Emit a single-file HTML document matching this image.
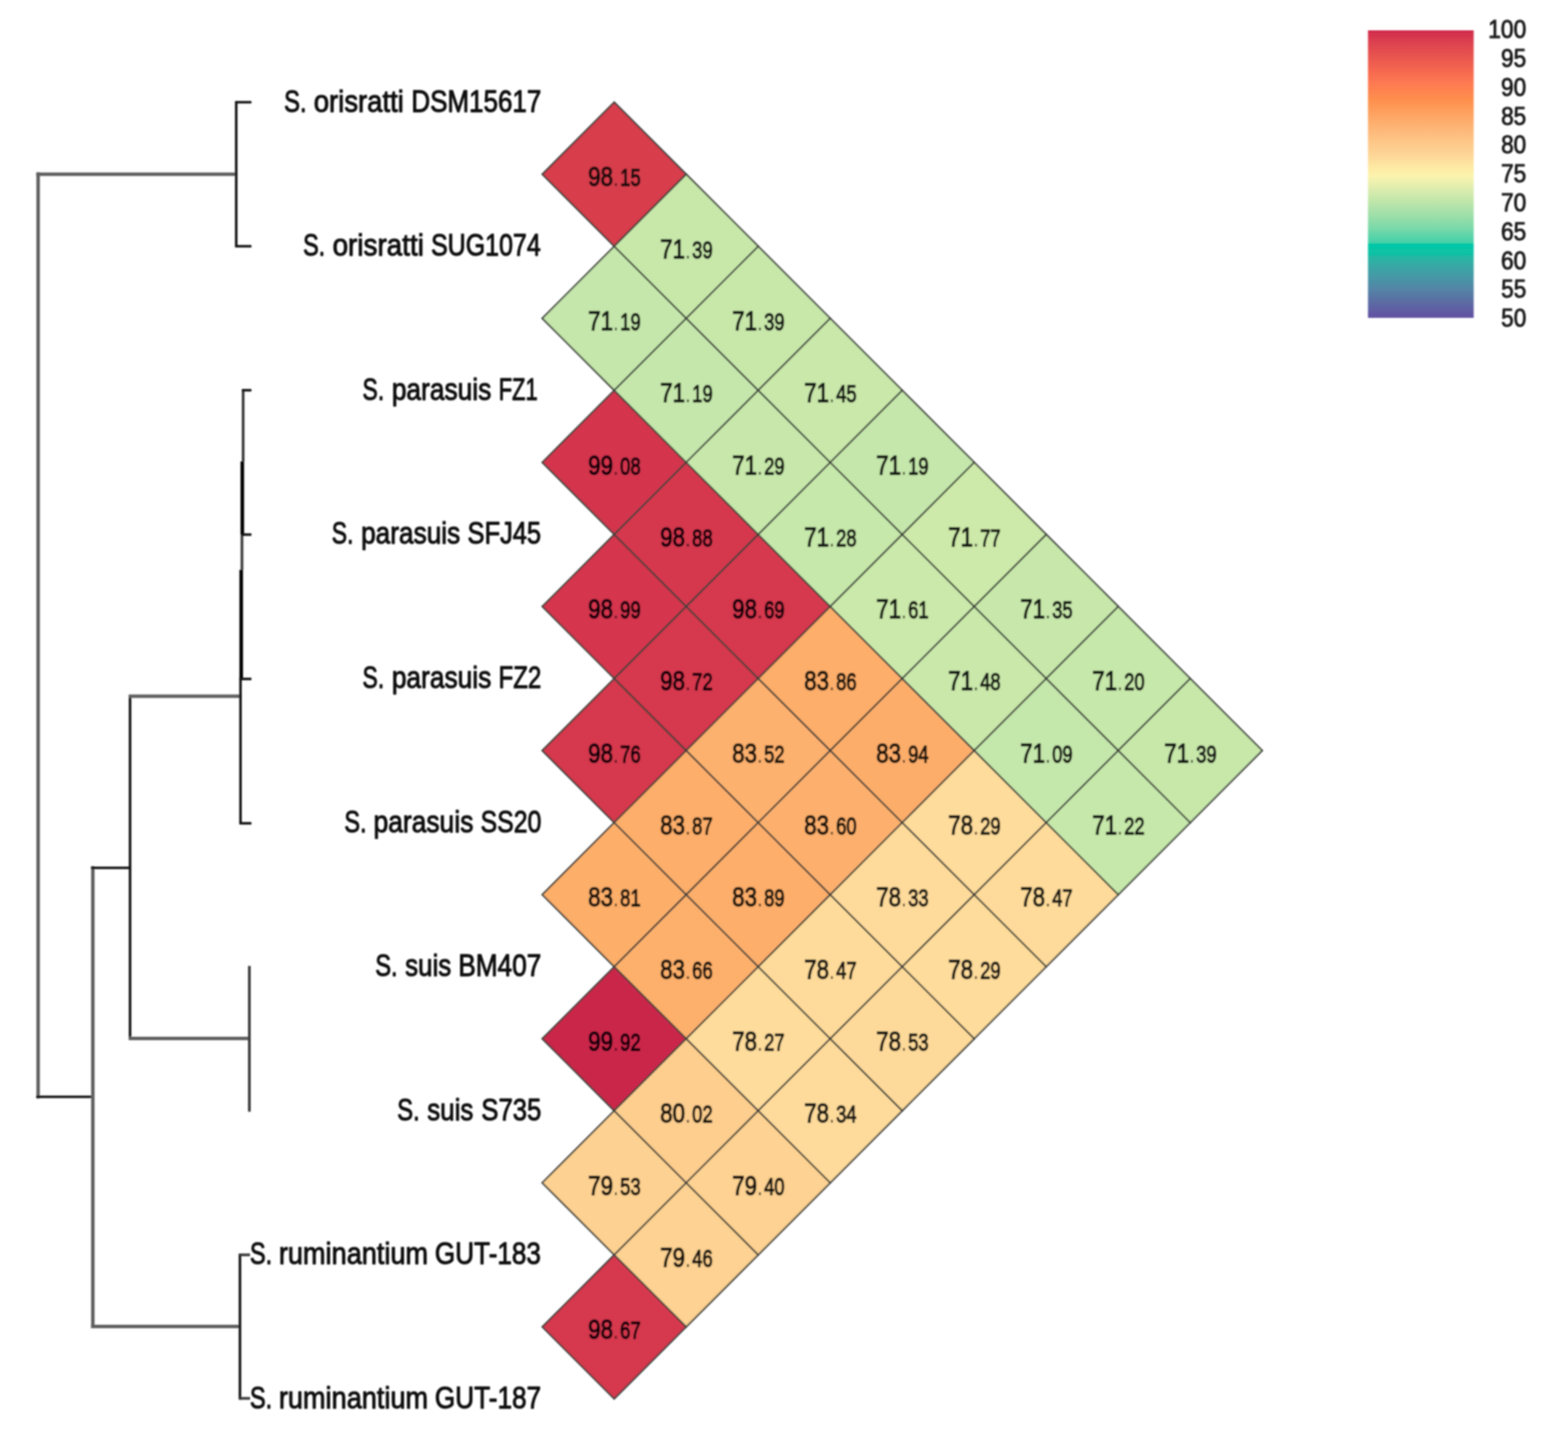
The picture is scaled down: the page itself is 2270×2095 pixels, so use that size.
<!DOCTYPE html>
<html lang="en"><head><meta charset="utf-8"><title>ANI heatmap</title>
<style>
html,body{margin:0;padding:0;background:#fff;}
body{width:2270px;height:2095px;overflow:hidden;}
svg{display:block;}
text{font-family:"Liberation Sans",sans-serif;}
.lab{font-size:45px;fill:#101010;text-anchor:start;stroke:#101010;stroke-width:1.4;stroke-linejoin:round;}
.big{font-size:38.5px;}
.sml{font-size:34.5px;}
.dot{font-size:29.325px;stroke-width:0.4;opacity:0.75;}
.num{fill:#000;opacity:0.88;text-anchor:start;stroke:#000;stroke-width:1.8;stroke-linejoin:round;}
.cb{font-size:36px;fill:#1c1c1c;text-anchor:start;stroke:#1c1c1c;stroke-width:1.2;stroke-linejoin:round;}
.cell{stroke:#3c403c;stroke-width:2.4;stroke-linejoin:miter;}
.dL{stroke:#5e5e5e;stroke-width:5;fill:none;stroke-linecap:butt;}
.dM{stroke:#3c3c3c;stroke-width:4;fill:none;stroke-linecap:butt;}
.dD{stroke:#0c0c0c;stroke-width:3.6;fill:none;stroke-linecap:butt;}
.dT{stroke:#000000;stroke-width:5.2;fill:none;stroke-linecap:butt;}
</style></head><body>
<svg width="2270" height="2095" viewBox="0 0 2270 2095">
<defs><linearGradient id="cbg" x1="0" y1="0" x2="0" y2="1">
<stop offset="0.0000" stop-color="#CC2244"/>
<stop offset="0.0096" stop-color="#D3304E"/>
<stop offset="0.0481" stop-color="#DE4450"/>
<stop offset="0.0865" stop-color="#E75350"/>
<stop offset="0.1249" stop-color="#F1624F"/>
<stop offset="0.1634" stop-color="#FA7150"/>
<stop offset="0.1826" stop-color="#FE7A52"/>
<stop offset="0.2018" stop-color="#FE8050"/>
<stop offset="0.2403" stop-color="#FE8F4E"/>
<stop offset="0.2595" stop-color="#FE9654"/>
<stop offset="0.2787" stop-color="#FE9E5C"/>
<stop offset="0.3172" stop-color="#FDAD6D"/>
<stop offset="0.3556" stop-color="#FDBB7C"/>
<stop offset="0.3940" stop-color="#FDC98A"/>
<stop offset="0.4325" stop-color="#FDD596"/>
<stop offset="0.4709" stop-color="#FDE7A3"/>
<stop offset="0.4950" stop-color="#FDF0A8"/>
<stop offset="0.5065" stop-color="#FBF3AD"/>
<stop offset="0.5334" stop-color="#EAF0AF"/>
<stop offset="0.5718" stop-color="#CFE9AC"/>
<stop offset="0.6103" stop-color="#B5E3AA"/>
<stop offset="0.6487" stop-color="#9ADEA9"/>
<stop offset="0.6872" stop-color="#7AD9A9"/>
<stop offset="0.7256" stop-color="#51D2A9"/>
<stop offset="0.7400" stop-color="#47D0A9"/>
<stop offset="0.7407" stop-color="#00C9A7"/>
<stop offset="0.7792" stop-color="#0FC0A5"/>
<stop offset="0.7869" stop-color="#25B8A3"/>
<stop offset="0.8217" stop-color="#3AA7A5"/>
<stop offset="0.8602" stop-color="#4797A6"/>
<stop offset="0.8986" stop-color="#5385A6"/>
<stop offset="0.9370" stop-color="#5A70A4"/>
<stop offset="0.9755" stop-color="#5F5CA3"/>
<stop offset="1.0000" stop-color="#5E50A2"/>
</linearGradient>
<filter id="bl" filterUnits="userSpaceOnUse" x="0" y="0" width="2270" height="2095"><feGaussianBlur stdDeviation="1"/></filter>
</defs>
<rect width="2270" height="2095" fill="#fff"/>
<g filter="url(#bl)">
<g id="dendrogram">
<path class="dL" d="M55.2,249.6 V1590.6"/>
<path class="dL" d="M52.6,252.2 H342"/>
<path class="dD" d="M52.6,1588 H134.4"/>
<path class="dL" d="M134.4,1254 V1923.1"/>
<path class="dD" d="M131.8,1256.5 H188.3"/>
<path class="dD" d="M188.3,1006 V1505.5"/>
<path class="dL" d="M186.6,1008 H348"/>
<path class="dL" d="M186.6,1503.5 H361"/>
<path class="dL" d="M131.8,1920.5 H347.4"/>
<path class="dD" d="M364,148 H342 V356.5 H364"/>
<path class="dM" d="M352.0,565 V668"/>
<path class="dT" d="M350.8,668 V774"/>
<path class="dM" d="M350.3,774 V825"/>
<path class="dT" d="M349.2,825 V983"/>
<path class="dD" d="M348.2,983 V1192"/>
<path class="dD" d="M350,565 H364"/>
<path class="dD" d="M350,774 H364"/>
<path class="dD" d="M346.6,983 H364"/>
<path class="dD" d="M346.6,1192 H364"/>
<path class="dM" d="M361,1398.5 V1609.5"/>
<path class="dD" d="M347.4,1815 V2026.5"/>
<path class="dM" d="M347.4,1816.8 H362"/>
<path class="dM" d="M347.4,2024.6 H362"/>
</g>
<g id="labels">
<text class="lab" y="161.50"><tspan x="411.23" textLength="32.62" lengthAdjust="spacingAndGlyphs">S.</tspan> <tspan x="454.13" textLength="130.56" lengthAdjust="spacingAndGlyphs">orisratti</tspan> <tspan x="595.51" textLength="188.18" lengthAdjust="spacingAndGlyphs">DSM15617</tspan></text>
<text class="lab" y="370.10"><tspan x="438.65" textLength="32.15" lengthAdjust="spacingAndGlyphs">S.</tspan> <tspan x="481.41" textLength="132.31" lengthAdjust="spacingAndGlyphs">orisratti</tspan> <tspan x="623.96" textLength="158.90" lengthAdjust="spacingAndGlyphs">SUG1074</tspan></text>
<text class="lab" y="578.70"><tspan x="524.79" textLength="31.33" lengthAdjust="spacingAndGlyphs">S.</tspan> <tspan x="567.14" textLength="144.14" lengthAdjust="spacingAndGlyphs">parasuis</tspan> <tspan x="721.90" textLength="56.46" lengthAdjust="spacingAndGlyphs">FZ1</tspan></text>
<text class="lab" y="787.30"><tspan x="480.19" textLength="31.45" lengthAdjust="spacingAndGlyphs">S.</tspan> <tspan x="522.65" textLength="143.62" lengthAdjust="spacingAndGlyphs">parasuis</tspan> <tspan x="676.83" textLength="106.52" lengthAdjust="spacingAndGlyphs">SFJ45</tspan></text>
<text class="lab" y="995.90"><tspan x="524.79" textLength="31.33" lengthAdjust="spacingAndGlyphs">S.</tspan> <tspan x="567.14" textLength="144.14" lengthAdjust="spacingAndGlyphs">parasuis</tspan> <tspan x="721.64" textLength="61.91" lengthAdjust="spacingAndGlyphs">FZ2</tspan></text>
<text class="lab" y="1204.50"><tspan x="498.55" textLength="32.15" lengthAdjust="spacingAndGlyphs">S.</tspan> <tspan x="540.63" textLength="144.65" lengthAdjust="spacingAndGlyphs">parasuis</tspan> <tspan x="695.87" textLength="87.73" lengthAdjust="spacingAndGlyphs">SS20</tspan></text>
<text class="lab" y="1413.10"><tspan x="543.14" textLength="32.50" lengthAdjust="spacingAndGlyphs">S.</tspan> <tspan x="586.56" textLength="66.70" lengthAdjust="spacingAndGlyphs">suis</tspan> <tspan x="663.38" textLength="120.33" lengthAdjust="spacingAndGlyphs">BM407</tspan></text>
<text class="lab" y="1621.70"><tspan x="575.03" textLength="32.62" lengthAdjust="spacingAndGlyphs">S.</tspan> <tspan x="618.56" textLength="66.70" lengthAdjust="spacingAndGlyphs">suis</tspan> <tspan x="696.81" textLength="86.95" lengthAdjust="spacingAndGlyphs">S735</tspan></text>
<text class="lab" y="1830.30"><tspan x="361.74" textLength="32.39" lengthAdjust="spacingAndGlyphs">S.</tspan> <tspan x="403.69" textLength="216.10" lengthAdjust="spacingAndGlyphs">ruminantium</tspan> <tspan x="629.62" textLength="153.52" lengthAdjust="spacingAndGlyphs">GUT-183</tspan></text>
<text class="lab" y="2038.90"><tspan x="361.74" textLength="32.39" lengthAdjust="spacingAndGlyphs">S.</tspan> <tspan x="403.69" textLength="216.10" lengthAdjust="spacingAndGlyphs">ruminantium</tspan> <tspan x="629.62" textLength="153.76" lengthAdjust="spacingAndGlyphs">GUT-187</tspan></text>
</g>
<g id="heatmap">
<polygon class="cell" fill="#D73D4C" points="785.00,252.30 889.24,148.00 993.48,252.30 889.24,356.60"/>
<polygon class="cell" fill="#C5E7AB" points="785.00,460.90 889.24,356.60 993.48,460.90 889.24,565.20"/>
<polygon class="cell" fill="#D4354D" points="785.00,669.50 889.24,565.20 993.48,669.50 889.24,773.80"/>
<polygon class="cell" fill="#D5364D" points="785.00,878.10 889.24,773.80 993.48,878.10 889.24,982.40"/>
<polygon class="cell" fill="#D6384D" points="785.00,1086.70 889.24,982.40 993.48,1086.70 889.24,1191.00"/>
<polygon class="cell" fill="#FDAF6B" points="785.00,1295.30 889.24,1191.00 993.48,1295.30 889.24,1399.60"/>
<polygon class="cell" fill="#CA2549" points="785.00,1503.90 889.24,1399.60 993.48,1503.90 889.24,1608.20"/>
<polygon class="cell" fill="#FDD191" points="785.00,1712.50 889.24,1608.20 993.48,1712.50 889.24,1816.80"/>
<polygon class="cell" fill="#D6394D" points="785.00,1921.10 889.24,1816.80 993.48,1921.10 889.24,2025.40"/>
<polygon class="cell" fill="#C8E8AA" points="889.24,356.60 993.48,252.30 1097.72,356.60 993.48,460.90"/>
<polygon class="cell" fill="#C5E7AB" points="889.24,565.20 993.48,460.90 1097.72,565.20 993.48,669.50"/>
<polygon class="cell" fill="#D5374D" points="889.24,773.80 993.48,669.50 1097.72,773.80 993.48,878.10"/>
<polygon class="cell" fill="#D6394D" points="889.24,982.40 993.48,878.10 1097.72,982.40 993.48,1086.70"/>
<polygon class="cell" fill="#FDAE6A" points="889.24,1191.00 993.48,1086.70 1097.72,1191.00 993.48,1295.30"/>
<polygon class="cell" fill="#FDB06C" points="889.24,1399.60 993.48,1295.30 1097.72,1399.60 993.48,1503.90"/>
<polygon class="cell" fill="#FDCE8E" points="889.24,1608.20 993.48,1503.90 1097.72,1608.20 993.48,1712.50"/>
<polygon class="cell" fill="#FDD292" points="889.24,1816.80 993.48,1712.50 1097.72,1816.80 993.48,1921.10"/>
<polygon class="cell" fill="#C8E8AA" points="993.48,460.90 1097.72,356.60 1201.96,460.90 1097.72,565.20"/>
<polygon class="cell" fill="#C7E8AA" points="993.48,669.50 1097.72,565.20 1201.96,669.50 1097.72,773.80"/>
<polygon class="cell" fill="#D6394D" points="993.48,878.10 1097.72,773.80 1201.96,878.10 1097.72,982.40"/>
<polygon class="cell" fill="#FDB16E" points="993.48,1086.70 1097.72,982.40 1201.96,1086.70 1097.72,1191.00"/>
<polygon class="cell" fill="#FDAE6A" points="993.48,1295.30 1097.72,1191.00 1201.96,1295.30 1097.72,1399.60"/>
<polygon class="cell" fill="#FEDC9B" points="993.48,1503.90 1097.72,1399.60 1201.96,1503.90 1097.72,1608.20"/>
<polygon class="cell" fill="#FDD292" points="993.48,1712.50 1097.72,1608.20 1201.96,1712.50 1097.72,1816.80"/>
<polygon class="cell" fill="#C9E8AA" points="1097.72,565.20 1201.96,460.90 1306.20,565.20 1201.96,669.50"/>
<polygon class="cell" fill="#C6E8AA" points="1097.72,773.80 1201.96,669.50 1306.20,773.80 1201.96,878.10"/>
<polygon class="cell" fill="#FDAE6A" points="1097.72,982.40 1201.96,878.10 1306.20,982.40 1201.96,1086.70"/>
<polygon class="cell" fill="#FDB06D" points="1097.72,1191.00 1201.96,1086.70 1306.20,1191.00 1201.96,1295.30"/>
<polygon class="cell" fill="#FEDB9A" points="1097.72,1399.60 1201.96,1295.30 1306.20,1399.60 1201.96,1503.90"/>
<polygon class="cell" fill="#FEDB9B" points="1097.72,1608.20 1201.96,1503.90 1306.20,1608.20 1201.96,1712.50"/>
<polygon class="cell" fill="#C5E7AB" points="1201.96,669.50 1306.20,565.20 1410.44,669.50 1306.20,773.80"/>
<polygon class="cell" fill="#CBE9AA" points="1201.96,878.10 1306.20,773.80 1410.44,878.10 1306.20,982.40"/>
<polygon class="cell" fill="#FDAD6A" points="1201.96,1086.70 1306.20,982.40 1410.44,1086.70 1306.20,1191.00"/>
<polygon class="cell" fill="#FEDB9B" points="1201.96,1295.30 1306.20,1191.00 1410.44,1295.30 1306.20,1399.60"/>
<polygon class="cell" fill="#FEDA9A" points="1201.96,1503.90 1306.20,1399.60 1410.44,1503.90 1306.20,1608.20"/>
<polygon class="cell" fill="#CEEAAA" points="1306.20,773.80 1410.44,669.50 1514.68,773.80 1410.44,878.10"/>
<polygon class="cell" fill="#C9E8AA" points="1306.20,982.40 1410.44,878.10 1514.68,982.40 1410.44,1086.70"/>
<polygon class="cell" fill="#FEDC9B" points="1306.20,1191.00 1410.44,1086.70 1514.68,1191.00 1410.44,1295.30"/>
<polygon class="cell" fill="#FEDC9B" points="1306.20,1399.60 1410.44,1295.30 1514.68,1399.60 1410.44,1503.90"/>
<polygon class="cell" fill="#C7E8AA" points="1410.44,878.10 1514.68,773.80 1618.92,878.10 1514.68,982.40"/>
<polygon class="cell" fill="#C4E7AB" points="1410.44,1086.70 1514.68,982.40 1618.92,1086.70 1514.68,1191.00"/>
<polygon class="cell" fill="#FEDB9A" points="1410.44,1295.30 1514.68,1191.00 1618.92,1295.30 1514.68,1399.60"/>
<polygon class="cell" fill="#C6E8AA" points="1514.68,982.40 1618.92,878.10 1723.16,982.40 1618.92,1086.70"/>
<polygon class="cell" fill="#C6E8AA" points="1514.68,1191.00 1618.92,1086.70 1723.16,1191.00 1618.92,1295.30"/>
<polygon class="cell" fill="#C8E8AA" points="1618.92,1086.70 1723.16,982.40 1827.40,1086.70 1723.16,1191.00"/>
</g>
<g id="values">
<text class="num" y="269.30"><tspan class="big" x="851.54" textLength="35.90" lengthAdjust="spacingAndGlyphs">98</tspan><tspan class="dot" x="887.84" textLength="7.67" lengthAdjust="spacingAndGlyphs">.</tspan><tspan class="sml" x="897.84" textLength="29.60" lengthAdjust="spacingAndGlyphs">15</tspan></text>
<text class="num" y="477.90"><tspan class="big" x="851.54" textLength="35.90" lengthAdjust="spacingAndGlyphs">71</tspan><tspan class="dot" x="887.84" textLength="7.67" lengthAdjust="spacingAndGlyphs">.</tspan><tspan class="sml" x="897.84" textLength="29.60" lengthAdjust="spacingAndGlyphs">19</tspan></text>
<text class="num" y="686.50"><tspan class="big" x="851.54" textLength="35.90" lengthAdjust="spacingAndGlyphs">99</tspan><tspan class="dot" x="887.84" textLength="7.67" lengthAdjust="spacingAndGlyphs">.</tspan><tspan class="sml" x="897.84" textLength="29.60" lengthAdjust="spacingAndGlyphs">08</tspan></text>
<text class="num" y="895.10"><tspan class="big" x="851.54" textLength="35.90" lengthAdjust="spacingAndGlyphs">98</tspan><tspan class="dot" x="887.84" textLength="7.67" lengthAdjust="spacingAndGlyphs">.</tspan><tspan class="sml" x="897.84" textLength="29.60" lengthAdjust="spacingAndGlyphs">99</tspan></text>
<text class="num" y="1103.70"><tspan class="big" x="851.54" textLength="35.90" lengthAdjust="spacingAndGlyphs">98</tspan><tspan class="dot" x="887.84" textLength="7.67" lengthAdjust="spacingAndGlyphs">.</tspan><tspan class="sml" x="897.84" textLength="29.60" lengthAdjust="spacingAndGlyphs">76</tspan></text>
<text class="num" y="1312.30"><tspan class="big" x="851.54" textLength="35.90" lengthAdjust="spacingAndGlyphs">83</tspan><tspan class="dot" x="887.84" textLength="7.67" lengthAdjust="spacingAndGlyphs">.</tspan><tspan class="sml" x="897.84" textLength="29.60" lengthAdjust="spacingAndGlyphs">81</tspan></text>
<text class="num" y="1520.90"><tspan class="big" x="851.54" textLength="35.90" lengthAdjust="spacingAndGlyphs">99</tspan><tspan class="dot" x="887.84" textLength="7.67" lengthAdjust="spacingAndGlyphs">.</tspan><tspan class="sml" x="897.84" textLength="29.60" lengthAdjust="spacingAndGlyphs">92</tspan></text>
<text class="num" y="1729.50"><tspan class="big" x="851.54" textLength="35.90" lengthAdjust="spacingAndGlyphs">79</tspan><tspan class="dot" x="887.84" textLength="7.67" lengthAdjust="spacingAndGlyphs">.</tspan><tspan class="sml" x="897.84" textLength="29.60" lengthAdjust="spacingAndGlyphs">53</tspan></text>
<text class="num" y="1938.10"><tspan class="big" x="851.54" textLength="35.90" lengthAdjust="spacingAndGlyphs">98</tspan><tspan class="dot" x="887.84" textLength="7.67" lengthAdjust="spacingAndGlyphs">.</tspan><tspan class="sml" x="897.84" textLength="29.60" lengthAdjust="spacingAndGlyphs">67</tspan></text>
<text class="num" y="373.60"><tspan class="big" x="955.78" textLength="35.90" lengthAdjust="spacingAndGlyphs">71</tspan><tspan class="dot" x="992.08" textLength="7.67" lengthAdjust="spacingAndGlyphs">.</tspan><tspan class="sml" x="1002.08" textLength="29.60" lengthAdjust="spacingAndGlyphs">39</tspan></text>
<text class="num" y="582.20"><tspan class="big" x="955.78" textLength="35.90" lengthAdjust="spacingAndGlyphs">71</tspan><tspan class="dot" x="992.08" textLength="7.67" lengthAdjust="spacingAndGlyphs">.</tspan><tspan class="sml" x="1002.08" textLength="29.60" lengthAdjust="spacingAndGlyphs">19</tspan></text>
<text class="num" y="790.80"><tspan class="big" x="955.78" textLength="35.90" lengthAdjust="spacingAndGlyphs">98</tspan><tspan class="dot" x="992.08" textLength="7.67" lengthAdjust="spacingAndGlyphs">.</tspan><tspan class="sml" x="1002.08" textLength="29.60" lengthAdjust="spacingAndGlyphs">88</tspan></text>
<text class="num" y="999.40"><tspan class="big" x="955.78" textLength="35.90" lengthAdjust="spacingAndGlyphs">98</tspan><tspan class="dot" x="992.08" textLength="7.67" lengthAdjust="spacingAndGlyphs">.</tspan><tspan class="sml" x="1002.08" textLength="29.60" lengthAdjust="spacingAndGlyphs">72</tspan></text>
<text class="num" y="1208.00"><tspan class="big" x="955.78" textLength="35.90" lengthAdjust="spacingAndGlyphs">83</tspan><tspan class="dot" x="992.08" textLength="7.67" lengthAdjust="spacingAndGlyphs">.</tspan><tspan class="sml" x="1002.08" textLength="29.60" lengthAdjust="spacingAndGlyphs">87</tspan></text>
<text class="num" y="1416.60"><tspan class="big" x="955.78" textLength="35.90" lengthAdjust="spacingAndGlyphs">83</tspan><tspan class="dot" x="992.08" textLength="7.67" lengthAdjust="spacingAndGlyphs">.</tspan><tspan class="sml" x="1002.08" textLength="29.60" lengthAdjust="spacingAndGlyphs">66</tspan></text>
<text class="num" y="1625.20"><tspan class="big" x="955.78" textLength="35.90" lengthAdjust="spacingAndGlyphs">80</tspan><tspan class="dot" x="992.08" textLength="7.67" lengthAdjust="spacingAndGlyphs">.</tspan><tspan class="sml" x="1002.08" textLength="29.60" lengthAdjust="spacingAndGlyphs">02</tspan></text>
<text class="num" y="1833.80"><tspan class="big" x="955.78" textLength="35.90" lengthAdjust="spacingAndGlyphs">79</tspan><tspan class="dot" x="992.08" textLength="7.67" lengthAdjust="spacingAndGlyphs">.</tspan><tspan class="sml" x="1002.08" textLength="29.60" lengthAdjust="spacingAndGlyphs">46</tspan></text>
<text class="num" y="477.90"><tspan class="big" x="1060.02" textLength="35.90" lengthAdjust="spacingAndGlyphs">71</tspan><tspan class="dot" x="1096.32" textLength="7.67" lengthAdjust="spacingAndGlyphs">.</tspan><tspan class="sml" x="1106.32" textLength="29.60" lengthAdjust="spacingAndGlyphs">39</tspan></text>
<text class="num" y="686.50"><tspan class="big" x="1060.02" textLength="35.90" lengthAdjust="spacingAndGlyphs">71</tspan><tspan class="dot" x="1096.32" textLength="7.67" lengthAdjust="spacingAndGlyphs">.</tspan><tspan class="sml" x="1106.32" textLength="29.60" lengthAdjust="spacingAndGlyphs">29</tspan></text>
<text class="num" y="895.10"><tspan class="big" x="1060.02" textLength="35.90" lengthAdjust="spacingAndGlyphs">98</tspan><tspan class="dot" x="1096.32" textLength="7.67" lengthAdjust="spacingAndGlyphs">.</tspan><tspan class="sml" x="1106.32" textLength="29.60" lengthAdjust="spacingAndGlyphs">69</tspan></text>
<text class="num" y="1103.70"><tspan class="big" x="1060.02" textLength="35.90" lengthAdjust="spacingAndGlyphs">83</tspan><tspan class="dot" x="1096.32" textLength="7.67" lengthAdjust="spacingAndGlyphs">.</tspan><tspan class="sml" x="1106.32" textLength="29.60" lengthAdjust="spacingAndGlyphs">52</tspan></text>
<text class="num" y="1312.30"><tspan class="big" x="1060.02" textLength="35.90" lengthAdjust="spacingAndGlyphs">83</tspan><tspan class="dot" x="1096.32" textLength="7.67" lengthAdjust="spacingAndGlyphs">.</tspan><tspan class="sml" x="1106.32" textLength="29.60" lengthAdjust="spacingAndGlyphs">89</tspan></text>
<text class="num" y="1520.90"><tspan class="big" x="1060.02" textLength="35.90" lengthAdjust="spacingAndGlyphs">78</tspan><tspan class="dot" x="1096.32" textLength="7.67" lengthAdjust="spacingAndGlyphs">.</tspan><tspan class="sml" x="1106.32" textLength="29.60" lengthAdjust="spacingAndGlyphs">27</tspan></text>
<text class="num" y="1729.50"><tspan class="big" x="1060.02" textLength="35.90" lengthAdjust="spacingAndGlyphs">79</tspan><tspan class="dot" x="1096.32" textLength="7.67" lengthAdjust="spacingAndGlyphs">.</tspan><tspan class="sml" x="1106.32" textLength="29.60" lengthAdjust="spacingAndGlyphs">40</tspan></text>
<text class="num" y="582.20"><tspan class="big" x="1164.26" textLength="35.90" lengthAdjust="spacingAndGlyphs">71</tspan><tspan class="dot" x="1200.56" textLength="7.67" lengthAdjust="spacingAndGlyphs">.</tspan><tspan class="sml" x="1210.56" textLength="29.60" lengthAdjust="spacingAndGlyphs">45</tspan></text>
<text class="num" y="790.80"><tspan class="big" x="1164.26" textLength="35.90" lengthAdjust="spacingAndGlyphs">71</tspan><tspan class="dot" x="1200.56" textLength="7.67" lengthAdjust="spacingAndGlyphs">.</tspan><tspan class="sml" x="1210.56" textLength="29.60" lengthAdjust="spacingAndGlyphs">28</tspan></text>
<text class="num" y="999.40"><tspan class="big" x="1164.26" textLength="35.90" lengthAdjust="spacingAndGlyphs">83</tspan><tspan class="dot" x="1200.56" textLength="7.67" lengthAdjust="spacingAndGlyphs">.</tspan><tspan class="sml" x="1210.56" textLength="29.60" lengthAdjust="spacingAndGlyphs">86</tspan></text>
<text class="num" y="1208.00"><tspan class="big" x="1164.26" textLength="35.90" lengthAdjust="spacingAndGlyphs">83</tspan><tspan class="dot" x="1200.56" textLength="7.67" lengthAdjust="spacingAndGlyphs">.</tspan><tspan class="sml" x="1210.56" textLength="29.60" lengthAdjust="spacingAndGlyphs">60</tspan></text>
<text class="num" y="1416.60"><tspan class="big" x="1164.26" textLength="35.90" lengthAdjust="spacingAndGlyphs">78</tspan><tspan class="dot" x="1200.56" textLength="7.67" lengthAdjust="spacingAndGlyphs">.</tspan><tspan class="sml" x="1210.56" textLength="29.60" lengthAdjust="spacingAndGlyphs">47</tspan></text>
<text class="num" y="1625.20"><tspan class="big" x="1164.26" textLength="35.90" lengthAdjust="spacingAndGlyphs">78</tspan><tspan class="dot" x="1200.56" textLength="7.67" lengthAdjust="spacingAndGlyphs">.</tspan><tspan class="sml" x="1210.56" textLength="29.60" lengthAdjust="spacingAndGlyphs">34</tspan></text>
<text class="num" y="686.50"><tspan class="big" x="1268.50" textLength="35.90" lengthAdjust="spacingAndGlyphs">71</tspan><tspan class="dot" x="1304.80" textLength="7.67" lengthAdjust="spacingAndGlyphs">.</tspan><tspan class="sml" x="1314.80" textLength="29.60" lengthAdjust="spacingAndGlyphs">19</tspan></text>
<text class="num" y="895.10"><tspan class="big" x="1268.50" textLength="35.90" lengthAdjust="spacingAndGlyphs">71</tspan><tspan class="dot" x="1304.80" textLength="7.67" lengthAdjust="spacingAndGlyphs">.</tspan><tspan class="sml" x="1314.80" textLength="29.60" lengthAdjust="spacingAndGlyphs">61</tspan></text>
<text class="num" y="1103.70"><tspan class="big" x="1268.50" textLength="35.90" lengthAdjust="spacingAndGlyphs">83</tspan><tspan class="dot" x="1304.80" textLength="7.67" lengthAdjust="spacingAndGlyphs">.</tspan><tspan class="sml" x="1314.80" textLength="29.60" lengthAdjust="spacingAndGlyphs">94</tspan></text>
<text class="num" y="1312.30"><tspan class="big" x="1268.50" textLength="35.90" lengthAdjust="spacingAndGlyphs">78</tspan><tspan class="dot" x="1304.80" textLength="7.67" lengthAdjust="spacingAndGlyphs">.</tspan><tspan class="sml" x="1314.80" textLength="29.60" lengthAdjust="spacingAndGlyphs">33</tspan></text>
<text class="num" y="1520.90"><tspan class="big" x="1268.50" textLength="35.90" lengthAdjust="spacingAndGlyphs">78</tspan><tspan class="dot" x="1304.80" textLength="7.67" lengthAdjust="spacingAndGlyphs">.</tspan><tspan class="sml" x="1314.80" textLength="29.60" lengthAdjust="spacingAndGlyphs">53</tspan></text>
<text class="num" y="790.80"><tspan class="big" x="1372.74" textLength="35.90" lengthAdjust="spacingAndGlyphs">71</tspan><tspan class="dot" x="1409.04" textLength="7.67" lengthAdjust="spacingAndGlyphs">.</tspan><tspan class="sml" x="1419.04" textLength="29.60" lengthAdjust="spacingAndGlyphs">77</tspan></text>
<text class="num" y="999.40"><tspan class="big" x="1372.74" textLength="35.90" lengthAdjust="spacingAndGlyphs">71</tspan><tspan class="dot" x="1409.04" textLength="7.67" lengthAdjust="spacingAndGlyphs">.</tspan><tspan class="sml" x="1419.04" textLength="29.60" lengthAdjust="spacingAndGlyphs">48</tspan></text>
<text class="num" y="1208.00"><tspan class="big" x="1372.74" textLength="35.90" lengthAdjust="spacingAndGlyphs">78</tspan><tspan class="dot" x="1409.04" textLength="7.67" lengthAdjust="spacingAndGlyphs">.</tspan><tspan class="sml" x="1419.04" textLength="29.60" lengthAdjust="spacingAndGlyphs">29</tspan></text>
<text class="num" y="1416.60"><tspan class="big" x="1372.74" textLength="35.90" lengthAdjust="spacingAndGlyphs">78</tspan><tspan class="dot" x="1409.04" textLength="7.67" lengthAdjust="spacingAndGlyphs">.</tspan><tspan class="sml" x="1419.04" textLength="29.60" lengthAdjust="spacingAndGlyphs">29</tspan></text>
<text class="num" y="895.10"><tspan class="big" x="1476.98" textLength="35.90" lengthAdjust="spacingAndGlyphs">71</tspan><tspan class="dot" x="1513.28" textLength="7.67" lengthAdjust="spacingAndGlyphs">.</tspan><tspan class="sml" x="1523.28" textLength="29.60" lengthAdjust="spacingAndGlyphs">35</tspan></text>
<text class="num" y="1103.70"><tspan class="big" x="1476.98" textLength="35.90" lengthAdjust="spacingAndGlyphs">71</tspan><tspan class="dot" x="1513.28" textLength="7.67" lengthAdjust="spacingAndGlyphs">.</tspan><tspan class="sml" x="1523.28" textLength="29.60" lengthAdjust="spacingAndGlyphs">09</tspan></text>
<text class="num" y="1312.30"><tspan class="big" x="1476.98" textLength="35.90" lengthAdjust="spacingAndGlyphs">78</tspan><tspan class="dot" x="1513.28" textLength="7.67" lengthAdjust="spacingAndGlyphs">.</tspan><tspan class="sml" x="1523.28" textLength="29.60" lengthAdjust="spacingAndGlyphs">47</tspan></text>
<text class="num" y="999.40"><tspan class="big" x="1581.22" textLength="35.90" lengthAdjust="spacingAndGlyphs">71</tspan><tspan class="dot" x="1617.52" textLength="7.67" lengthAdjust="spacingAndGlyphs">.</tspan><tspan class="sml" x="1627.52" textLength="29.60" lengthAdjust="spacingAndGlyphs">20</tspan></text>
<text class="num" y="1208.00"><tspan class="big" x="1581.22" textLength="35.90" lengthAdjust="spacingAndGlyphs">71</tspan><tspan class="dot" x="1617.52" textLength="7.67" lengthAdjust="spacingAndGlyphs">.</tspan><tspan class="sml" x="1627.52" textLength="29.60" lengthAdjust="spacingAndGlyphs">22</tspan></text>
<text class="num" y="1103.70"><tspan class="big" x="1685.46" textLength="35.90" lengthAdjust="spacingAndGlyphs">71</tspan><tspan class="dot" x="1721.76" textLength="7.67" lengthAdjust="spacingAndGlyphs">.</tspan><tspan class="sml" x="1731.76" textLength="29.60" lengthAdjust="spacingAndGlyphs">39</tspan></text>
</g>
<g id="legend">
<rect x="1980.40" y="44.00" width="153.10" height="416.20" fill="url(#cbg)"/>
<text class="cb" x="2154.49" y="55.30" textLength="55.00" lengthAdjust="spacingAndGlyphs">100</text>
<text class="cb" x="2173.06" y="97.08" textLength="36.52" lengthAdjust="spacingAndGlyphs">95</text>
<text class="cb" x="2173.07" y="138.86" textLength="36.41" lengthAdjust="spacingAndGlyphs">90</text>
<text class="cb" x="2173.18" y="180.64" textLength="36.40" lengthAdjust="spacingAndGlyphs">85</text>
<text class="cb" x="2173.18" y="222.42" textLength="36.29" lengthAdjust="spacingAndGlyphs">80</text>
<text class="cb" x="2172.91" y="264.20" textLength="36.68" lengthAdjust="spacingAndGlyphs">75</text>
<text class="cb" x="2172.91" y="305.98" textLength="36.57" lengthAdjust="spacingAndGlyphs">70</text>
<text class="cb" x="2172.93" y="347.76" textLength="36.66" lengthAdjust="spacingAndGlyphs">65</text>
<text class="cb" x="2172.93" y="389.54" textLength="36.55" lengthAdjust="spacingAndGlyphs">60</text>
<text class="cb" x="2173.29" y="431.32" textLength="36.28" lengthAdjust="spacingAndGlyphs">55</text>
<text class="cb" x="2173.30" y="473.10" textLength="36.17" lengthAdjust="spacingAndGlyphs">50</text>
</g>
</g>
</svg></body></html>
